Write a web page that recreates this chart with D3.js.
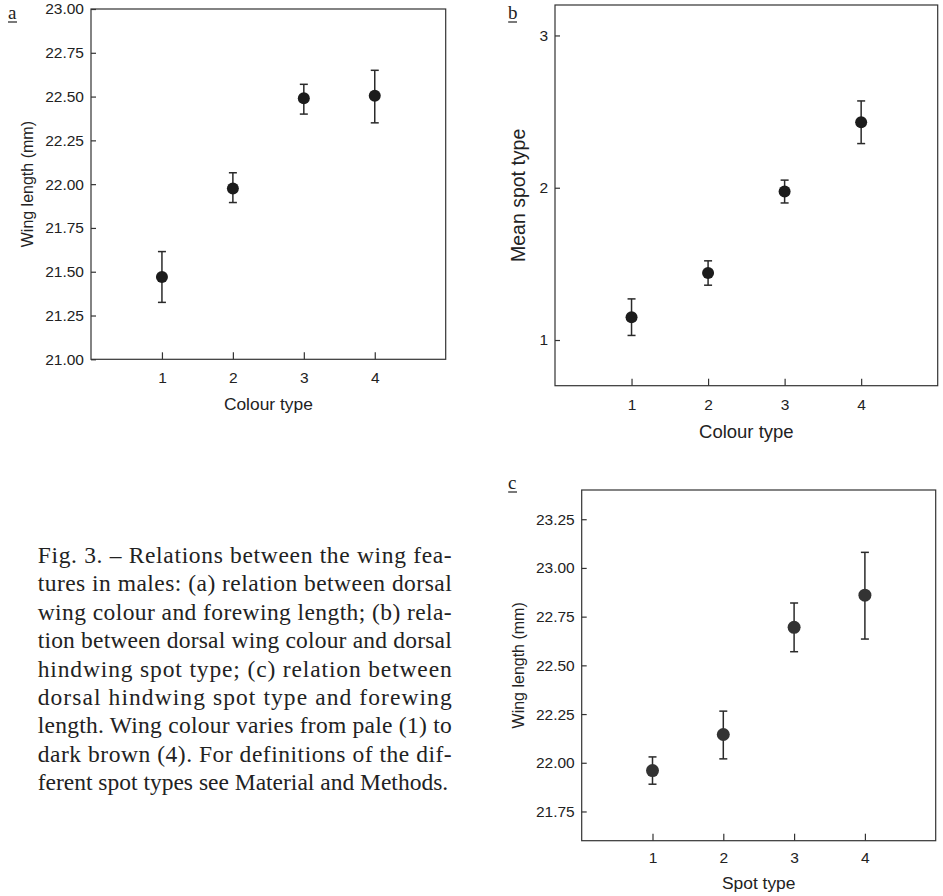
<!DOCTYPE html>
<html>
<head>
<meta charset="utf-8">
<script src="https://cdn.jsdelivr.net/npm/d3@7"></script>
<style>
  body { margin: 0; background: #fff; }
  svg { display: block; }
  .tick text { font-family: "Liberation Sans", Arial, sans-serif; fill: #222; }
  .tick line { stroke: #333; stroke-width: 1.2; }
</style>
</head>
<body>
<svg id="fig" width="943" height="896"></svg>
<script>
// values
var types = [1, 2, 3, 4];

// (a) wing length by colour type
var wingByColour     = [21.47, 21.975, 22.49, 22.505];
var wingByColourLow  = [21.325, 21.895, 22.40, 22.35];
var wingByColourHigh = [21.615, 22.065, 22.57, 22.65];

// (b) mean spot type by colour type
var spotByColour     = [1.15, 1.44, 1.975, 2.43];
var spotByColourLow  = [1.03, 1.36, 1.90, 2.29];
var spotByColourHigh = [1.27, 1.52, 2.05, 2.57];

// (c) wing length by spot type
var wingBySpot     = [21.96, 22.145, 22.695, 22.86];
var wingBySpotLow  = [21.89, 22.02, 22.57, 22.635];
var wingBySpotHigh = [22.03, 22.265, 22.82, 23.08];

var ticksA = [21.00, 21.25, 21.50, 21.75, 22.00, 22.25, 22.50, 22.75, 23.00];
var ticksB = [1, 2, 3];
var ticksC = [21.75, 22.00, 22.25, 22.50, 22.75, 23.00, 23.25];

var caption = [
  "Fig. 3. \u2013 Relations between the wing fea-",
  "tures in males: (a) relation between dorsal",
  "wing colour and forewing length; (b) rela-",
  "tion between dorsal wing colour and dorsal",
  "hindwing spot type; (c) relation between",
  "dorsal hindwing spot type and forewing",
  "length. Wing colour varies from pale (1) to",
  "dark brown (4). For definitions of the dif-",
  "ferent spot types see Material and Methods."
];

var svg = d3.select('#fig');
var sans = '"Liberation Sans", Arial, sans-serif';
var serif = '"Liberation Serif", "Times New Roman", serif';

function panel(p) {
  var x = d3.scaleLinear().domain([0, 5]).range([p.left, p.right]);
  var y = d3.scaleLinear().domain(p.ydom).range([p.bottom, p.top]);
  var g = svg.append('g');

  // frame
  g.append('rect')
      .attr('x', p.left).attr('y', p.top)
      .attr('width', p.right - p.left).attr('height', p.bottom - p.top)
      .attr('fill', 'none')
      .attr('stroke', '#333')
      .attr('stroke-width', 1.2);

  // axes, ticks pointing inwards
  g.append('g')
      .attr('transform', 'translate(' + p.left + ',0)')
      .call(d3.axisLeft(y).tickValues(p.ticks).tickFormat(d3.format(p.fmt))
              .tickSize(-5).tickPadding(7));
  g.append('g')
      .attr('transform', 'translate(0,' + p.bottom + ')')
      .call(d3.axisBottom(x).tickValues(types).tickFormat(d3.format('d'))
              .tickSize(-7).tickPadding(p.xpad));
  g.selectAll('.domain').remove();
  g.selectAll('.tick text').style('font-size', '15.5px');

  // axis titles
  g.append('text')
      .attr('transform', 'translate(' + p.ytx + ',' + (p.top + p.bottom) / 2 + ') rotate(-90)')
      .attr('text-anchor', 'middle')
      .attr('dy', '0.35em')
      .style('font-family', sans).style('font-size', p.ysize + 'px').style('fill', '#222')
      .text(p.ytitle);
  g.append('text')
      .attr('x', (p.left + p.right) / 2).attr('y', p.xty)
      .attr('text-anchor', 'middle')
      .attr('dy', '0.35em')
      .style('font-family', sans).style('font-size', p.xsize + 'px').style('fill', '#222')
      .text(p.xtitle);

  // panel letter, underlined
  g.append('text')
      .attr('x', p.lx).attr('y', p.ly)
      .style('font-family', serif).style('font-size', '19px').style('fill', '#222')
      .text(p.letter);
  g.append('line')
      .attr('x1', p.lx).attr('x2', p.lx + 9)
      .attr('y1', p.ly + 3).attr('y2', p.ly + 3)
      .attr('stroke', '#222').attr('stroke-width', 1.2);

  // error bars
  var pts = types.map(function(t, i) {
    return {t: t, m: p.mean[i], lo: p.lo[i], hi: p.hi[i]};
  });
  var eb = g.selectAll('.eb').data(pts).enter().append('g').attr('class', 'eb');
  eb.append('line')
      .attr('x1', function(d) { return x(d.t); })
      .attr('x2', function(d) { return x(d.t); })
      .attr('y1', function(d) { return y(d.lo); })
      .attr('y2', function(d) { return y(d.hi); });
  eb.append('line')
      .attr('x1', function(d) { return x(d.t) - 4; })
      .attr('x2', function(d) { return x(d.t) + 4; })
      .attr('y1', function(d) { return y(d.hi); })
      .attr('y2', function(d) { return y(d.hi); });
  eb.append('line')
      .attr('x1', function(d) { return x(d.t) - 4; })
      .attr('x2', function(d) { return x(d.t) + 4; })
      .attr('y1', function(d) { return y(d.lo); })
      .attr('y2', function(d) { return y(d.lo); });
  eb.selectAll('line').attr('stroke', '#2a2a2a').attr('stroke-width', 1.5);

  g.selectAll('.pt').data(pts).enter().append('circle')
      .attr('class', 'pt')
      .attr('cx', function(d) { return x(d.t); })
      .attr('cy', function(d) { return y(d.m); })
      .attr('r', p.r)
      .attr('fill', p.dot);
}

panel({
  left: 91, right: 445.7, top: 9, bottom: 359.3,
  ydom: [21, 23], ticks: ticksA, fmt: '.2f', xpad: 13,
  mean: wingByColour, lo: wingByColourLow, hi: wingByColourHigh,
  ytitle: 'Wing length (mm)', ysize: 16, ytx: 27,
  xtitle: 'Colour type', xsize: 17.4, xty: 404,
  letter: 'a', lx: 8, ly: 19, r: 6, dot: '#1c1c1c'
});

panel({
  left: 555, right: 937.7, top: 5, bottom: 385.7,
  ydom: [0.7, 3.2], ticks: ticksB, fmt: 'd', xpad: 13,
  mean: spotByColour, lo: spotByColourLow, hi: spotByColourHigh,
  ytitle: 'Mean spot type', ysize: 19.5, ytx: 518,
  xtitle: 'Colour type', xsize: 18.5, xty: 432,
  letter: 'b', lx: 508, ly: 19, r: 6, dot: '#1c1c1c'
});

panel({
  left: 581.7, right: 935.7, top: 490, bottom: 840.7,
  ydom: [21.6, 23.4], ticks: ticksC, fmt: '.2f', xpad: 11,
  mean: wingBySpot, lo: wingBySpotLow, hi: wingBySpotHigh,
  ytitle: 'Wing length (mm)', ysize: 16, ytx: 518,
  xtitle: 'Spot type', xsize: 17.4, xty: 883,
  letter: 'c', lx: 508, ly: 489, r: 6.5, dot: '#333'
});

// caption, justified lines
var cap = svg.append('g')
    .style('font-family', serif).style('font-size', '23.5px').style('fill', '#222');
cap.selectAll('text').data(caption).enter().append('text')
    .attr('x', 37.7)
    .attr('y', function(d, i) { return 563 + i * 28.4; })
    .attr('textLength', function(d, i) { return i < caption.length - 1 ? 414 : null; })
    .attr('lengthAdjust', 'spacing')
    .text(function(d) { return d; });
</script>
</body>
</html>
